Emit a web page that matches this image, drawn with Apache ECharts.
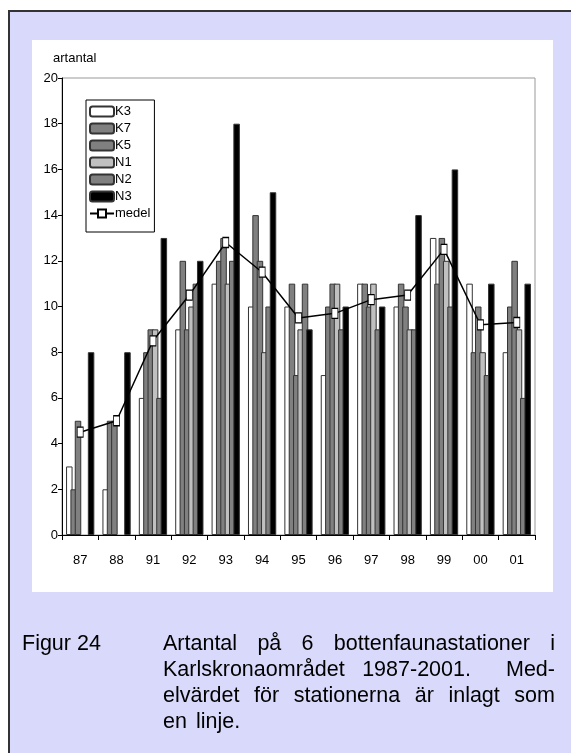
<!DOCTYPE html>
<html>
<head>
<meta charset="utf-8">
<script src="https://cdn.jsdelivr.net/npm/echarts@6/dist/echarts.min.js"></script>
<style>
  html, body { margin: 0; padding: 0; background: #fff; overflow: hidden; width: 571px; height: 753px; }
  #frame {
    position: absolute; left: 8px; top: 10px; width: 563px; height: 743px;
    background: #d9d9fb; border-left: 2px solid #333; border-top: 2px solid #333;
  }
  #panel {
    position: absolute; left: 32px; top: 40px; width: 521px; height: 552px;
    background: #fff;
  }
  #chart { position: absolute; left: 0; top: 0; width: 571px; height: 753px; }
  .cap {
    position: absolute; font-family: 'Liberation Sans', Arial, sans-serif;
    font-size: 21.5px; line-height: 26px; color: #000;
  }
  #fig { left: 22px; top: 630px; }
  #txt { left: 163px; top: 630px; width: 392px; text-align: justify; word-spacing: 3px; }
</style>
</head>
<body>
<div id="frame"></div>
<div id="panel"></div>
<div id="chart"></div>
<div class="cap" id="fig">Figur 24</div>
<div class="cap" id="txt">Artantal på 6 bottenfaunastationer i Karlskronaområdet 1987-2001.&nbsp; Med-elvärdet för stationerna är inlagt som en linje.</div>
<script>
// år (kategorier)
var years = ['87', '88', '91', '92', '93', '94', '95', '96', '97', '98', '99', '00', '01'];
// antal arter per station
var k3 = [3, 2, 6, 9, 11, 10, 10, 7, 11, 10, 13, 11, 8];
var k7 = [2, 5, 8, 12, 12, 14, 11, 10, 11, 11, 11, 8, 10];
var k5 = [5, 5, 9, 9, 13, 12, 7, 11, 10, 10, 13, 10, 12];
var n1 = [null, null, 9, 10, 11, 8, 9, 11, 11, 9, 12, 8, 9];
var n2 = [null, null, 6, 11, 12, 10, 11, 9, 9, 9, 10, 7, 6];
var n3 = [8, 8, 13, 12, 18, 15, 9, 10, 10, 14, 16, 11, 11];
// medelvärde
var medel = [4.5, 5, 8.5, 10.5, 12.8, 11.5, 9.5, 9.7, 10.3, 10.5, 12.5, 9.2, 9.3];
var yTicks = { min: 0, max: 20, interval: 2 };

var font = "'Liberation Sans', Arial, sans-serif";

function bar(name, data, color) {
    return {
        name: name,
        type: 'bar',
        data: data,
        barWidth: 6.5,
        barGap: '-33%',
        itemStyle: { color: color, borderColor: '#333', borderWidth: 1 },
        emphasis: { disabled: true }
    };
}

var chart = echarts.init(document.getElementById('chart'));
chart.setOption({
    animation: false,
    title: {
        text: 'artantal',
        left: 48, top: 47,
        textStyle: { fontFamily: font, fontSize: 13, fontWeight: 'normal', color: '#000' }
    },
    legend: {
        orient: 'vertical',
        left: 86, top: 100,
        itemWidth: 24, itemHeight: 10, itemGap: 4,
        padding: [5, 4, 12, 3],
        borderColor: '#000', borderWidth: 1,
        backgroundColor: '#fff',
        textStyle: { fontFamily: font, fontSize: 13, lineHeight: 13, color: '#000', padding: [0, 0, 0, -4] },
        data: ['K3', 'K7', 'K5', 'N1', 'N2', 'N3', 'medel']
    },
    grid: {
        left: 62, right: 36, top: 78, bottom: 218,
        show: true, borderColor: '#999', borderWidth: 1, backgroundColor: 'transparent'
    },
    xAxis: {
        type: 'category',
        data: years,
        axisLine: { lineStyle: { color: '#000', width: 1 } },
        axisTick: { show: true, length: 5, lineStyle: { color: '#000' } },
        axisLabel: { fontFamily: font, fontSize: 13, color: '#000', margin: 19 }
    },
    yAxis: {
        type: 'value',
        min: yTicks.min, max: yTicks.max, interval: yTicks.interval,
        splitLine: { show: false },
        axisLine: { show: true, lineStyle: { color: '#000', width: 1 } },
        axisTick: { show: true, length: 4, lineStyle: { color: '#000' } },
        axisLabel: { fontFamily: font, fontSize: 13, color: '#000', margin: 4 }
    },
    series: [
        bar('K3', k3, '#ffffff'),
        bar('K7', k7, '#808080'),
        bar('K5', k5, '#808080'),
        bar('N1', n1, '#c0c0c0'),
        bar('N2', n2, '#808080'),
        bar('N3', n3, '#000000'),
        {
            name: 'medel',
            type: 'line',
            data: medel,
            z: 5,
            symbol: 'rect',
            symbolSize: [6, 10],
            showAllSymbol: true,
            lineStyle: { color: '#000', width: 1.5 },
            itemStyle: { color: '#fff', borderColor: '#000', borderWidth: 1 },
            emphasis: { disabled: true }
        }
    ]
});
</script>
</body>
</html>
